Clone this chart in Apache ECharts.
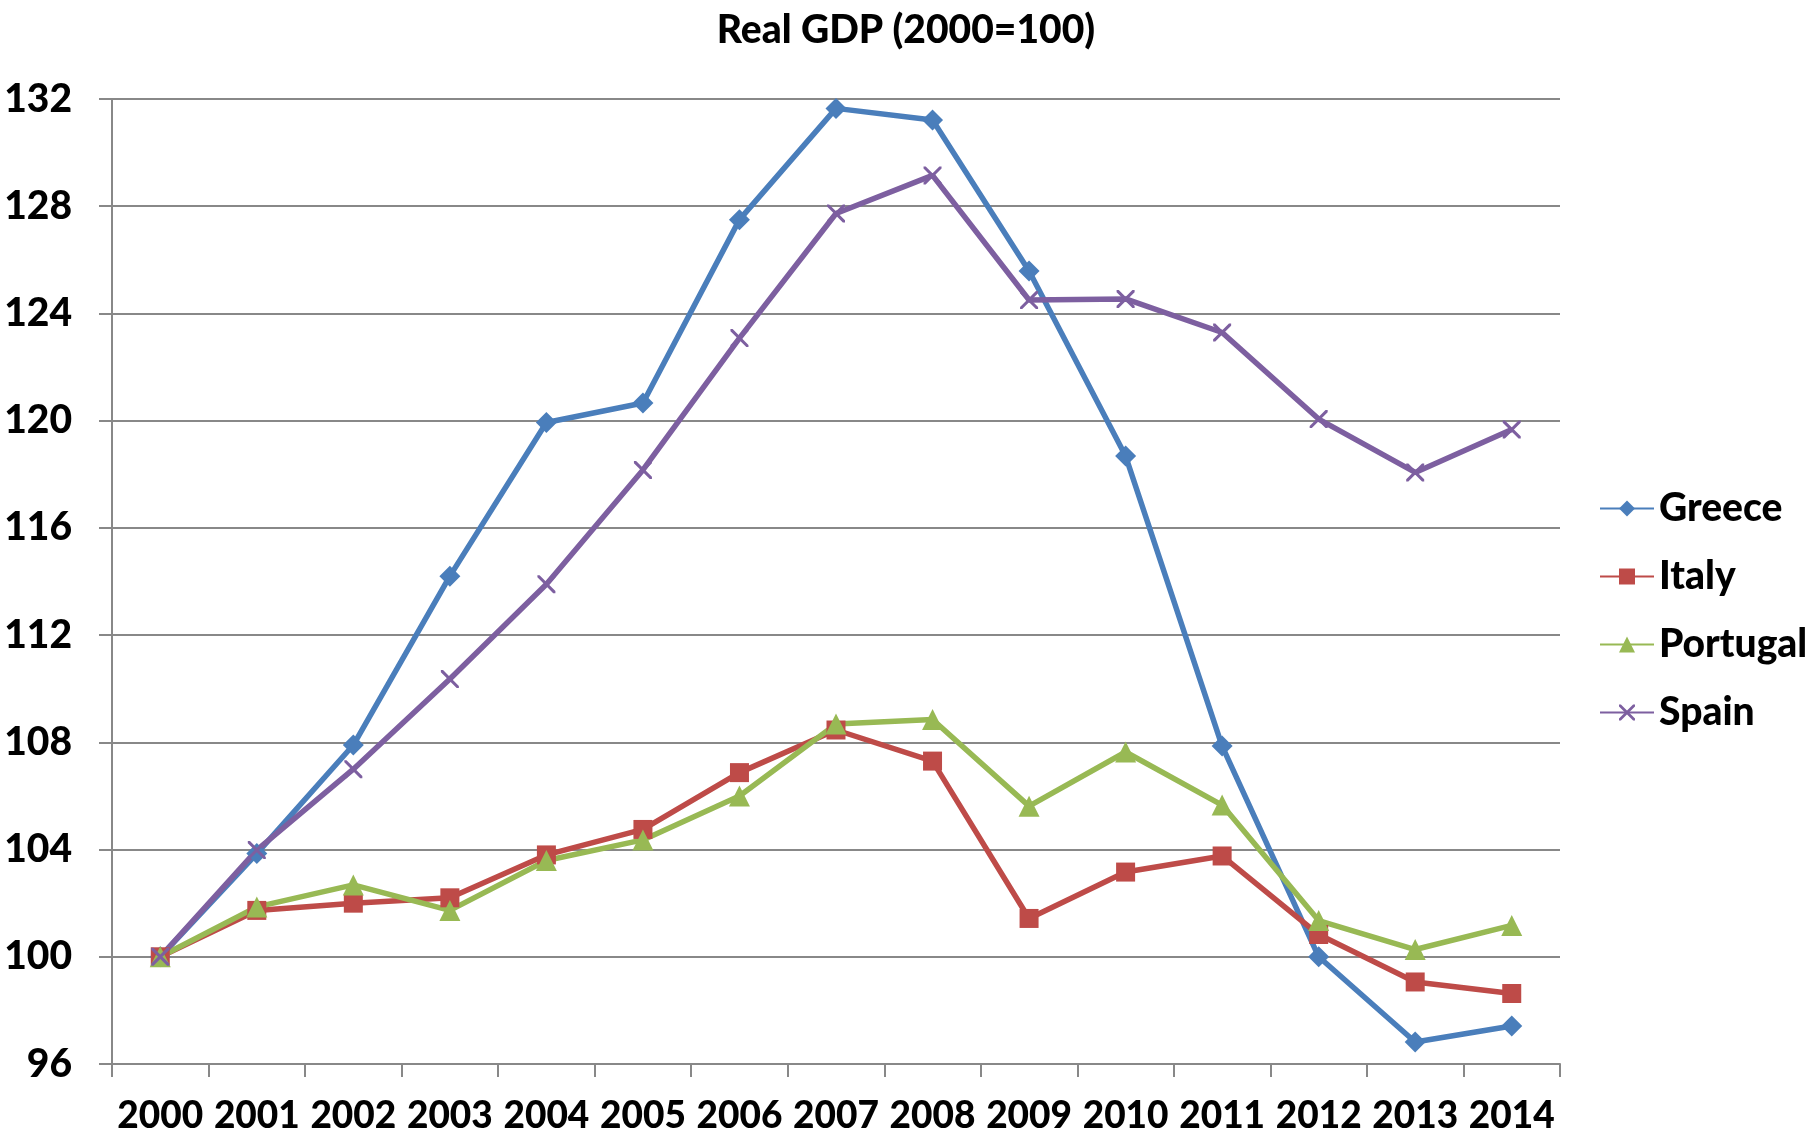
<!DOCTYPE html>
<html>
<head>
<meta charset="utf-8">
<script src="https://cdn.jsdelivr.net/npm/echarts@6/dist/echarts.min.js"></script>
<style>
  html, body { margin: 0; padding: 0; background: #fff; }
  #chart { width: 1812px; height: 1139px; }
</style>
</head>
<body>
<div id="chart"></div>
<script>
var years = ['2000', '2001', '2002', '2003', '2004', '2005', '2006', '2007',
             '2008', '2009', '2010', '2011', '2012', '2013', '2014'];
var greece   = [100, 103.85, 107.9, 114.2, 119.93, 120.66, 127.5, 131.65, 131.22, 125.58, 118.68, 107.86, 100.0, 96.82, 97.42];
var italy    = [100, 101.73, 102.0, 102.2, 103.8, 104.75, 106.87, 108.46, 107.3, 101.43, 103.16, 103.76, 100.83, 99.06, 98.63];
var portugal = [100, 101.86, 102.68, 101.73, 103.59, 104.36, 106.0, 108.68, 108.85, 105.62, 107.64, 105.66, 101.35, 100.27, 101.17];
var spain    = [100, 103.98, 107.0, 110.36, 113.9, 118.16, 123.08, 127.73, 129.15, 124.5, 124.54, 123.29, 120.06, 118.07, 119.67];

var font = 'Lato, "Open Sans", sans-serif';
var weight = 900;
var gridColor = '#888888';
// thin X marker, drawn as a filled shape
var crossPath = 'path://M0,0L1.2,0L10,8.8L10,10L8.8,10L0,1.2ZM8.8,0L10,0L10,1.2L1.2,10L0,10L0,8.8Z';

var chart = echarts.init(document.getElementById('chart'));

function line(name, data, color, symbol, size) {
    return {
        name: name,
        type: 'line',
        data: data,
        symbol: symbol,
        symbolSize: size,
        showAllSymbol: true,
        lineStyle: { color: color, width: 5.5 },
        itemStyle: { color: color },
        emphasis: { disabled: true },
        animation: false
    };
}

var option = {
    backgroundColor: '#ffffff',
    title: {
        text: 'Real GDP (2000=100)',
        left: 'center',
        top: 6,
        textStyle: { fontFamily: font, fontSize: 39, fontWeight: weight, color: '#000' }
    },
    legend: {
        orient: 'vertical',
        left: 1594,
        top: 484,
        itemWidth: 54,
        itemHeight: 20,
        itemGap: 29,
        textStyle: { fontFamily: font, fontSize: 39, fontWeight: weight, color: '#000', lineHeight: 38 },
        data: ['Greece', 'Italy', 'Portugal', 'Spain']
    },
    grid: { left: 112, right: 252, top: 99, bottom: 75 },
    xAxis: {
        type: 'category',
        data: years,
        boundaryGap: true,
        axisLine: { lineStyle: { color: gridColor, width: 2 } },
        axisTick: { show: true, length: 13, lineStyle: { color: gridColor, width: 2 } },
        axisLabel: { interval: 0, margin: 34, fontFamily: font, fontSize: 37, fontWeight: weight, color: '#000' }
    },
    yAxis: {
        type: 'value',
        min: 96,
        max: 132,
        interval: 4,
        axisLine: { show: true, lineStyle: { color: gridColor, width: 2 } },
        axisTick: { show: true, length: 13, lineStyle: { color: gridColor, width: 2 } },
        splitLine: { lineStyle: { color: gridColor, width: 2 } },
        axisLabel: { margin: 40, fontFamily: font, fontSize: 39, fontWeight: weight, color: '#000' }
    },
    series: [
        line('Greece', greece, '#4a7ebb', 'diamond', 21),
        line('Italy', italy, '#be4b48', 'rect', 19),
        line('Portugal', portugal, '#98b954', 'triangle', 21),
        line('Spain', spain, '#7d5fa0', crossPath, 18)
    ]
};

chart.setOption(option);
</script>
</body>
</html>
